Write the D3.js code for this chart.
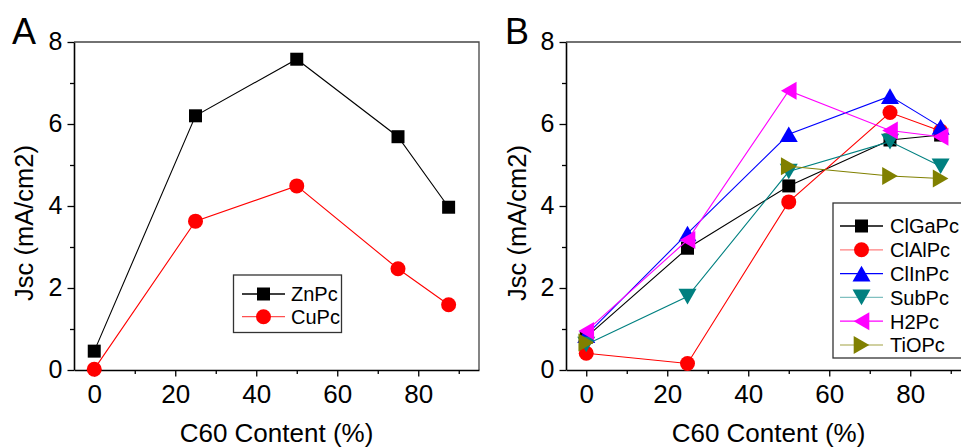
<!DOCTYPE html>
<html>
<head>
<meta charset="utf-8">
<script src="https://cdn.jsdelivr.net/npm/d3@7"></script>
<style>
  html, body { margin: 0; padding: 0; background: #fff; }
  svg { display: block; font-family: "Liberation Sans", Arial, sans-serif; }
</style>
</head>
<body>
<svg id="chart" width="961" height="448"></svg>
<script>
// ---------- data ----------
const contents = [0, 25, 50, 75, 87.5];
const yTicks = [0, 2, 4, 6, 8];
const yMinor = [1, 3, 5, 7];
const xTicks = [0, 20, 40, 60, 80];
const xMinor = [10, 30, 50, 70, 90];

const seriesNamesA = ["ZnPc", "CuPc"];
const znpc = [0.46, 6.20, 7.58, 5.69, 3.97];
const cupc = [0.02, 3.63, 4.49, 2.47, 1.59];

const seriesNamesB = ["ClGaPc", "ClAlPc", "ClInPc", "SubPc", "H2Pc", "TiOPc"];
const clgapc = [0.80, 2.97, 4.49, 5.61, 5.73];
const clalpc = [0.41, 0.16, 4.10, 6.28, 5.83];
const clinpc = [0.85, 3.33, 5.75, 6.68, 5.93];
const subpc  = [0.62, 1.79, 4.84, 5.57, 4.97];
const h2pc   = [0.95, 3.17, 6.81, 5.84, 5.69];
const tiopc  = [0.67, null, 4.97, 4.73, 4.67];

const xTitle = "C60 Content (%)";
const yTitle = "Jsc (mA/cm2)";

// ---------- styles ----------
const styleA = [
  {color: "#000000", legendLine: "#000000", marker: "square"},
  {color: "#ff0000", legendLine: "#ff5050", marker: "circle"}
];
const styleB = [
  {color: "#000000", legendLine: "#000000", marker: "square"},
  {color: "#ff0000", legendLine: "#ff8080", marker: "circle"},
  {color: "#0000ff", legendLine: "#0000ff", marker: "up"},
  {color: "#008080", legendLine: "#80c0c0", marker: "down"},
  {color: "#ff00ff", legendLine: "#ff00ff", marker: "left"},
  {color: "#808000", legendLine: "#c0c080", marker: "right"}
];

const svg = d3.select("#chart");

function markerPath(type) {
  if (type === "square") { const a = 6.5; return `M${-a},${-a}H${a}V${a}H${-a}Z`; }
  if (type === "circle") { const r = 7.5; return `M${r},0A${r},${r} 0 1,1 ${-r},0A${r},${r} 0 1,1 ${r},0Z`; }
  const s = 18, h = s * Math.sqrt(3) / 2;
  if (type === "up")    return `M0,${-h/2}L${s/2},${h/2}L${-s/2},${h/2}Z`;
  if (type === "down")  return `M0,${h/2}L${s/2},${-h/2}L${-s/2},${-h/2}Z`;
  if (type === "left")  return `M${-h/2},0L${h/2},${-s/2}L${h/2},${s/2}Z`;
  if (type === "right") return `M${h/2},0L${-h/2},${-s/2}L${-h/2},${s/2}Z`;
}

function panel(opts) {
  const x = d3.scaleLinear().domain([-5, 95]).range([opts.x0, opts.x0 + 405]);
  const y = d3.scaleLinear().domain([0, 8]).range([370, 42]);
  const g = svg.append("g");

  // frame (top / right)
  g.append("path")
    .attr("d", `M${x.range()[0]},${y(8)}H${x.range()[1]}V${y(0)}`)
    .attr("fill", "none").attr("stroke", "#444").attr("stroke-width", 1.3);

  // minor ticks
  g.append("g").attr("transform", `translate(0,${y(0)})`)
    .call(d3.axisBottom(x).tickValues(xMinor).tickSize(4).tickSizeOuter(0).tickFormat(""))
    .call(s => s.select(".domain").remove())
    .call(s => s.selectAll("line").attr("stroke-width", 1.3));
  g.append("g").attr("transform", `translate(${x(-5)},0)`)
    .call(d3.axisLeft(y).tickValues(yMinor).tickSize(4).tickSizeOuter(0).tickFormat(""))
    .call(s => s.select(".domain").remove())
    .call(s => s.selectAll("line").attr("stroke-width", 1.3));

  // major axes
  const xa = g.append("g").attr("transform", `translate(0,${y(0)})`)
    .call(d3.axisBottom(x).tickValues(xTicks).tickSize(6.5).tickSizeOuter(0).tickPadding(8));
  xa.select(".domain").attr("stroke-width", 1.6);
  xa.selectAll("line").attr("stroke-width", 1.3);
  xa.selectAll("text").attr("font-size", 26).attr("font-family", "Liberation Sans, Arial, sans-serif").attr("fill", "#000");

  const ya = g.append("g").attr("transform", `translate(${x(-5)},0)`)
    .call(d3.axisLeft(y).tickValues(yTicks).tickSize(6.5).tickSizeOuter(0).tickPadding(5));
  ya.select(".domain").attr("stroke-width", 1.6);
  ya.selectAll("line").attr("stroke-width", 1.3);
  ya.selectAll("text").attr("font-size", 25).attr("font-family", "Liberation Sans, Arial, sans-serif").attr("fill", "#000").attr("dy", "0.3em");

  // titles
  g.append("text").attr("x", (x.range()[0] + x.range()[1]) / 2).attr("y", 442)
    .attr("text-anchor", "middle").attr("font-size", 26).text(xTitle);
  g.append("text").attr("transform", `translate(${opts.yTitleX},223) rotate(-90)`)
    .attr("text-anchor", "middle").attr("font-size", 25.5).text(yTitle);
  g.append("text").attr("x", opts.letterX).attr("y", 43.5)
    .attr("font-size", 36).text(opts.letter);

  // series
  const line = d3.line().defined(d => d[1] !== null).x(d => x(d[0])).y(d => y(d[1]));
  opts.series.forEach((vals, i) => {
    const st = opts.styles[i];
    const pts = contents.map((c, j) => [c, vals[j]]);
    const sg = g.append("g");
    sg.append("path").attr("d", line(pts)).attr("fill", "none")
      .attr("stroke", st.color).attr("stroke-width", 1.1);
    sg.selectAll("path.m").data(pts.filter(d => d[1] !== null)).join("path")
      .attr("class", "m")
      .attr("transform", d => `translate(${x(d[0])},${y(d[1])})`)
      .attr("d", markerPath(st.marker)).attr("fill", st.color);
  });

  // legend
  const L = opts.legend;
  const lg = g.append("g");
  lg.append("rect").attr("x", L.x).attr("y", L.y).attr("width", L.w).attr("height", L.h)
    .attr("fill", "#fff").attr("stroke", "#333").attr("stroke-width", 1.3);
  opts.names.forEach((name, i) => {
    const st = opts.styles[i];
    const cy = L.firstY + i * L.step;
    lg.append("line").attr("x1", L.lineX0).attr("x2", L.lineX1).attr("y1", cy).attr("y2", cy)
      .attr("stroke", st.legendLine).attr("stroke-width", 1.3);
    lg.append("path").attr("transform", `translate(${(L.lineX0 + L.lineX1) / 2},${cy})`)
      .attr("d", markerPath(st.marker)).attr("fill", st.color);
    lg.append("text").attr("x", L.textX).attr("y", cy + 7.3).attr("font-size", 20).text(name);
  });
}

panel({
  x0: 74, letter: "A", letterX: 12, yTitleX: 33,
  series: [znpc, cupc], styles: styleA, names: seriesNamesA,
  legend: {x: 233.5, y: 275, w: 108, h: 57.5, firstY: 294, step: 22.7, lineX0: 242, lineX1: 285, textX: 291}
});
panel({
  x0: 566, letter: "B", letterX: 505, yTitleX: 526,
  series: [clgapc, clalpc, clinpc, subpc, h2pc, tiopc], styles: styleB, names: seriesNamesB,
  legend: {x: 833, y: 203, w: 140, h: 155, firstY: 226, step: 23.8, lineX0: 840, lineX1: 883, textX: 890}
});
</script>
</body>
</html>
